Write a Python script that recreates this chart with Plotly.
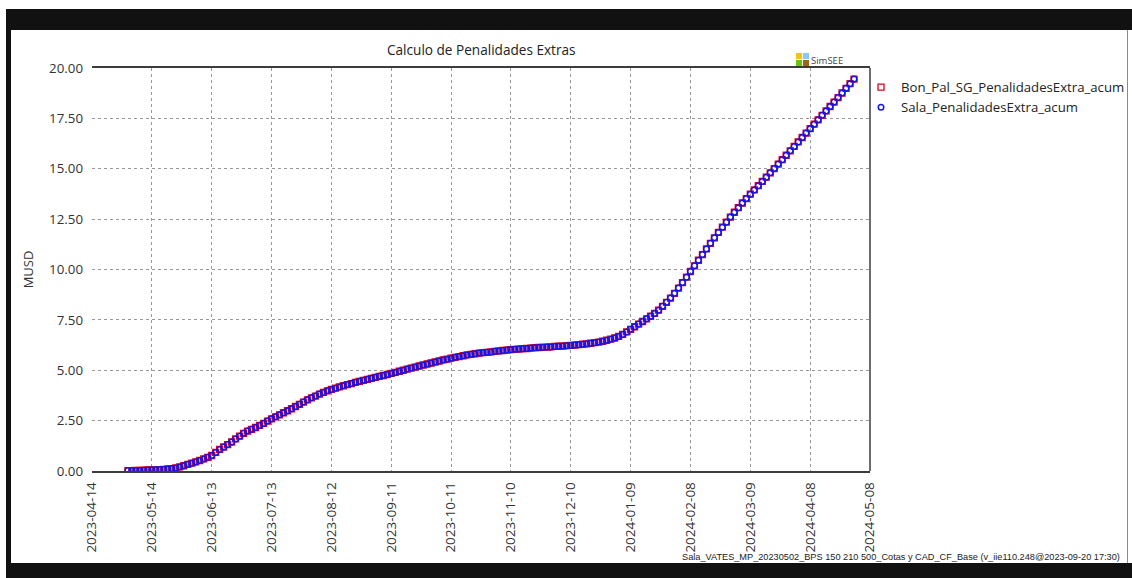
import pandas as pd
import plotly.graph_objects as go

# ---- data -------------------------------------------------------------
start_date = "2023-05-02"   # first sample, one sample every 2 days
step_days = 2

bon_pal_acum = [
    0.02, 0.02, 0.03, 0.03, 0.04, 0.05, 0.06, 0.06, 0.07, 0.08,
    0.10, 0.12, 0.15, 0.20, 0.26, 0.33, 0.39, 0.45, 0.52, 0.60,
    0.68, 0.77, 0.92, 1.07, 1.19, 1.31, 1.44, 1.59, 1.73, 1.87,
    1.98, 2.07, 2.16, 2.26, 2.36, 2.48, 2.59, 2.69, 2.79, 2.89,
    2.99, 3.09, 3.20, 3.31, 3.42, 3.53, 3.63, 3.72, 3.82, 3.90,
    3.98, 4.05, 4.11, 4.17, 4.23, 4.29, 4.34, 4.40, 4.45, 4.50,
    4.55, 4.60, 4.65, 4.70, 4.74, 4.79, 4.84, 4.89, 4.95, 5.00,
    5.06, 5.11, 5.16, 5.21, 5.26, 5.31, 5.36, 5.41, 5.46, 5.51,
    5.55, 5.60, 5.64, 5.68, 5.72, 5.76, 5.79, 5.82, 5.85, 5.87,
    5.89, 5.91, 5.94, 5.96, 5.98, 6.00, 6.02, 6.04, 6.05, 6.07,
    6.08, 6.10, 6.12, 6.13, 6.14, 6.15, 6.16, 6.18, 6.19, 6.20,
    6.22, 6.23, 6.25, 6.27, 6.29, 6.31, 6.34, 6.37, 6.40, 6.44,
    6.49, 6.54, 6.60, 6.68, 6.78, 6.90, 7.03, 7.16, 7.29, 7.42,
    7.55, 7.68, 7.82, 7.98, 8.17, 8.37, 8.58, 8.82, 9.08, 9.35,
    9.62, 9.90, 10.18, 10.46, 10.74, 11.02, 11.30, 11.57, 11.84, 12.10,
    12.35, 12.60, 12.84, 13.07, 13.30, 13.52, 13.74, 13.95, 14.16, 14.37,
    14.58, 14.80, 15.01, 15.23, 15.45, 15.67, 15.89, 16.11, 16.33, 16.55,
    16.77, 16.99, 17.21, 17.43, 17.65, 17.87, 18.09, 18.31, 18.53, 18.76,
    18.99, 19.22, 19.45,
]

sala_acum = [
    0.02, 0.02, 0.03, 0.03, 0.04, 0.05, 0.06, 0.06, 0.07, 0.08,
    0.10, 0.12, 0.15, 0.20, 0.26, 0.33, 0.39, 0.45, 0.52, 0.60,
    0.68, 0.77, 0.92, 1.07, 1.19, 1.31, 1.44, 1.59, 1.73, 1.87,
    1.98, 2.07, 2.16, 2.26, 2.36, 2.48, 2.59, 2.69, 2.79, 2.89,
    2.99, 3.09, 3.20, 3.31, 3.42, 3.53, 3.63, 3.72, 3.82, 3.90,
    3.98, 4.05, 4.11, 4.17, 4.23, 4.29, 4.34, 4.40, 4.45, 4.50,
    4.55, 4.60, 4.65, 4.70, 4.74, 4.79, 4.84, 4.89, 4.95, 5.00,
    5.06, 5.11, 5.16, 5.21, 5.26, 5.31, 5.36, 5.41, 5.46, 5.51,
    5.55, 5.60, 5.64, 5.68, 5.72, 5.76, 5.79, 5.82, 5.85, 5.87,
    5.89, 5.91, 5.94, 5.96, 5.98, 6.00, 6.02, 6.04, 6.05, 6.07,
    6.08, 6.10, 6.12, 6.13, 6.14, 6.15, 6.16, 6.18, 6.19, 6.20,
    6.22, 6.23, 6.25, 6.27, 6.29, 6.31, 6.34, 6.37, 6.40, 6.44,
    6.49, 6.54, 6.60, 6.68, 6.78, 6.90, 7.03, 7.16, 7.29, 7.42,
    7.55, 7.68, 7.82, 7.98, 8.17, 8.37, 8.58, 8.82, 9.08, 9.35,
    9.62, 9.90, 10.18, 10.46, 10.74, 11.02, 11.30, 11.57, 11.84, 12.10,
    12.35, 12.60, 12.84, 13.07, 13.30, 13.52, 13.74, 13.95, 14.16, 14.37,
    14.58, 14.80, 15.01, 15.23, 15.45, 15.67, 15.89, 16.11, 16.33, 16.55,
    16.77, 16.99, 17.21, 17.43, 17.65, 17.87, 18.09, 18.31, 18.53, 18.76,
    18.99, 19.22, 19.45,
]

x_ticks = [
    "2023-04-14", "2023-05-14", "2023-06-13", "2023-07-13", "2023-08-12",
    "2023-09-11", "2023-10-11", "2023-11-10", "2023-12-10", "2024-01-09",
    "2024-02-08", "2024-03-09", "2024-04-08", "2024-05-08",
]
y_ticks = [0, 2.5, 5, 7.5, 10, 12.5, 15, 17.5, 20]
y_tick_text = ["0.00", "2.50", "5.00", "7.50", "10.00", "12.50", "15.00", "17.50", "20.00"]

series_names = ["Bon_Pal_SG_PenalidadesExtra_acum", "Sala_PenalidadesExtra_acum"]
title_text = "Calculo de Penalidades Extras"
y_title = "MUSD"
footer_text = "Sala_VATES_MP_20230502_BPS 150 210 500_Cotas y CAD_CF_Base (v_iie110.248@2023-09-20 17:30)"

dates_bon = pd.date_range(start_date, periods=len(bon_pal_acum), freq=f"{step_days}D")
dates_sala = pd.date_range(start_date, periods=len(sala_acum), freq=f"{step_days}D")

# ---- geometry (pixels) ------------------------------------------------
W, H = 1132, 578
PL, PR, PT, PB = 92, 870, 68, 471
FONT = "Open Sans, Noto Sans, DejaVu Sans, sans-serif"


def fx(x):
    return (x - PL) / (PR - PL)


def fy(y):
    return (PB - y) / (PB - PT)


def rect(x0, y0, x1, y1, color):
    return dict(type="rect", xref="paper", yref="paper",
                x0=fx(x0), x1=fx(x1), y0=fy(y0), y1=fy(y1),
                fillcolor=color, line=dict(width=0), layer="above")


fig = go.Figure()

fig.add_trace(go.Scatter(
    x=dates_bon, y=bon_pal_acum, mode="markers", name=series_names[0],
    marker=dict(symbol="square-open", size=6, color="#e3001b",
                line=dict(width=1.3)),
))
fig.add_trace(go.Scatter(
    x=dates_sala, y=sala_acum, mode="markers", name=series_names[1],
    marker=dict(symbol="circle-open", size=5.5, color="#1414e6",
                line=dict(width=1.5)),
))

grid = dict(showgrid=True, gridcolor="#999999", gridwidth=1, griddash="3px,3px")

fig.update_xaxes(
    type="date", range=[x_ticks[0], x_ticks[-1]],
    tickmode="array", tickvals=x_ticks, ticktext=x_ticks, tickangle=-90,
    tickfont=dict(family=FONT, size=13.5, color="#333333"),
    showline=True, linecolor="#3c3c3c", linewidth=1.5, mirror=True,
    ticks="", zeroline=False, ticklabelstandoff=4, **grid,
)
fig.update_yaxes(
    range=[0, 20], tickmode="array", tickvals=y_ticks, ticktext=y_tick_text,
    tickfont=dict(family=FONT, size=13.3, color="#333333"),
    showline=False, zeroline=False, ticks="", ticklabelstandoff=8,
    title=dict(text=y_title, font=dict(family=FONT, size=13, color="#333333"),
               standoff=12),
    **grid,
)

shapes = [
    # dark frame around the window
    rect(6, 9, W, 30, "#111111"),
    rect(6, 30, 11, 563, "#111111"),
    rect(6, 563, W, H, "#111111"),
    rect(1127, 30, 1128, 563, "#8a8a8a"),
    # right border of the plot box
    dict(type="line", xref="paper", yref="paper", x0=1, x1=1, y0=0, y1=1,
         line=dict(color="#3c3c3c", width=1.5), layer="above"),
    # SimSEE logo squares
    rect(796, 53, 802, 59, "#f2c21b"),
    rect(803, 53, 809, 59, "#86cbf0"),
    rect(796, 60, 802, 66, "#6cbf22"),
    rect(803, 60, 809, 66, "#9a6a10"),
]

annotations = [
    dict(text=title_text, xref="paper", yref="paper", x=0.5, y=fy(49),
         xanchor="center", yanchor="middle", showarrow=False,
         font=dict(family=FONT, size=13.6, color="#222222")),
    dict(text="SimSEE", xref="paper", yref="paper", x=fx(809), y=fy(61),
         xanchor="left", yanchor="middle", showarrow=False,
         font=dict(family=FONT, size=9.5, color="#444444")),
    dict(text=footer_text, xref="paper", yref="paper", x=fx(1122), y=fy(556.5),
         xanchor="right", yanchor="middle", showarrow=False,
         font=dict(family="Liberation Sans, Arial, sans-serif",
                   size=9.2, color="#222222")),
]

fig.update_layout(
    width=W, height=H,
    margin=dict(l=PL, r=W - PR, t=PT, b=H - PB, autoexpand=False),
    paper_bgcolor="white", plot_bgcolor="white",
    showlegend=True,
    legend=dict(x=fx(861), y=fy(72), xanchor="left", yanchor="top",
                bgcolor="rgba(0,0,0,0)", itemwidth=30, tracegroupgap=0,
                font=dict(family=FONT, size=13.2, color="#222222")),
    shapes=shapes, annotations=annotations,
)

fig.write_html("out.html")
